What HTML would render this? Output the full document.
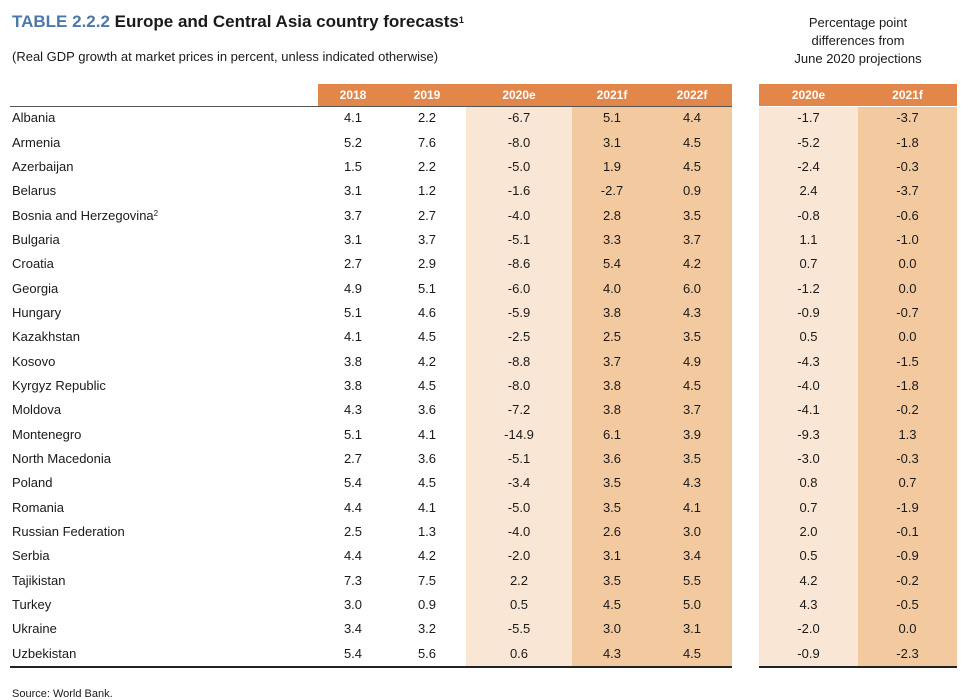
<!DOCTYPE html>
<html><head><meta charset="utf-8">
<style>
body{margin:0;width:972px;height:694px;background:#fff;position:relative;overflow:hidden;font-family:"Liberation Sans",Arial,sans-serif;color:#1a1a1a}
.a{position:absolute}
.c{position:absolute;text-align:center;font-size:13px;line-height:16px}
.n{position:absolute;font-size:13px;line-height:16px;left:12px;white-space:nowrap}
sup{line-height:0;vertical-align:4px}
</style></head><body>
<div class="a" style="left:12px;top:12px;font-size:17px;font-weight:bold;white-space:nowrap"><span style="color:#4e78a8">TABLE 2.2.2</span> Europe and Central Asia country forecasts<sup style="font-size:9px">1</sup></div>
<div class="a" style="left:12px;top:49px;font-size:13px">(Real GDP growth at market prices in percent, unless indicated otherwise)</div>
<div class="a" style="left:759px;width:198px;top:14px;font-size:13px;line-height:18px;text-align:center">Percentage point<br>differences from<br>June 2020 projections</div>
<div id="t"></div>
<script>
const countries=["Albania","Armenia","Azerbaijan","Belarus","Bosnia and Herzegovina","Bulgaria","Croatia","Georgia","Hungary","Kazakhstan","Kosovo","Kyrgyz Republic","Moldova","Montenegro","North Macedonia","Poland","Romania","Russian Federation","Serbia","Tajikistan","Turkey","Ukraine","Uzbekistan"];
const y2018=["4.1","5.2","1.5","3.1","3.7","3.1","2.7","4.9","5.1","4.1","3.8","3.8","4.3","5.1","2.7","5.4","4.4","2.5","4.4","7.3","3.0","3.4","5.4"];
const y2019=["2.2","7.6","2.2","1.2","2.7","3.7","2.9","5.1","4.6","4.5","4.2","4.5","3.6","4.1","3.6","4.5","4.1","1.3","4.2","7.5","0.9","3.2","5.6"];
const y2020=["-6.7","-8.0","-5.0","-1.6","-4.0","-5.1","-8.6","-6.0","-5.9","-2.5","-8.8","-8.0","-7.2","-14.9","-5.1","-3.4","-5.0","-4.0","-2.0","2.2","0.5","-5.5","0.6"];
const y2021=["5.1","3.1","1.9","-2.7","2.8","3.3","5.4","4.0","3.8","2.5","3.7","3.8","3.8","6.1","3.6","3.5","3.5","2.6","3.1","3.5","4.5","3.0","4.3"];
const y2022=["4.4","4.5","4.5","0.9","3.5","3.7","4.2","6.0","4.3","3.5","4.9","4.5","3.7","3.9","3.5","4.3","4.1","3.0","3.4","5.5","5.0","3.1","4.5"];
const d2020=["-1.7","-5.2","-2.4","2.4","-0.8","1.1","0.7","-1.2","-0.9","0.5","-4.3","-4.0","-4.1","-9.3","-3.0","0.8","0.7","2.0","0.5","4.2","4.3","-2.0","-0.9"];
const d2021=["-3.7","-1.8","-0.3","-3.7","-0.6","-1.0","0.0","0.0","-0.7","0.0","-1.5","-1.8","-0.2","1.3","-0.3","0.7","-1.9","-0.1","-0.9","-0.2","-0.5","0.0","-2.3"];
const headers=["2018","2019","2020e","2021f","2022f","2020e","2021f"];
const series=[y2018,y2019,y2020,y2021,y2022,d2020,d2021];
const colL=[318,388,466,572,652,759,858], colR=[388,466,572,652,732,858,957];
const bg=["","","#fae6d5","#f3c9a0","#f3c9a0","#fae6d5","#f3c9a0"];
const t=document.getElementById('t');
function mk(cls,css,txt){const e=document.createElement('div');e.className=cls;e.style.cssText=css;if(txt!==undefined)e.textContent=txt;t.appendChild(e);return e;}
const top0=107,bot=667,step=(bot-top0)/countries.length;
[[318,732],[759,957]].forEach((r,k)=>{const e=mk('a',`left:${r[0]}px;width:${r[1]-r[0]}px;top:84px;height:22px;background:#e2864a`);
 
 });
for(let j=0;j<7;j++){
 if(bg[j]){const e=mk('a',`left:${colL[j]}px;width:${colR[j]-colL[j]}px;top:${top0}px;height:${bot-top0}px;background:${bg[j]}`);
 
 }
 const h=mk('c',`left:${colL[j]}px;width:${colR[j]-colL[j]}px;top:84px;height:22px;line-height:22px;color:#fff;font-weight:bold;font-size:12px`,headers[j]);
 
 
}
const l1=mk('a','left:10px;width:722px;top:106px;height:1px;background:#555');


const l2=mk('a','left:10px;width:722px;top:666px;height:2px;background:#222');


const l3=mk('a','left:759px;width:198px;top:666px;height:2px;background:#222');


countries.forEach((c,i)=>{
 const y=top0+i*step+(step-16)/2-1;
 const n=mk('n',`top:${y}px`,c);
 
 
 if(c==="Bosnia and Herzegovina"){const s=document.createElement('sup');s.textContent='2';s.style.fontSize='8px';n.appendChild(s);}
 series.forEach((s,j)=>{const e=mk('c',`left:${colL[j]}px;width:${colR[j]-colL[j]}px;top:${y}px`,s[i]);
 
 });
});
</script>
<div class="a" style="left:12px;top:688px;font-size:11px">Source: World Bank.</div>
</body></html>
